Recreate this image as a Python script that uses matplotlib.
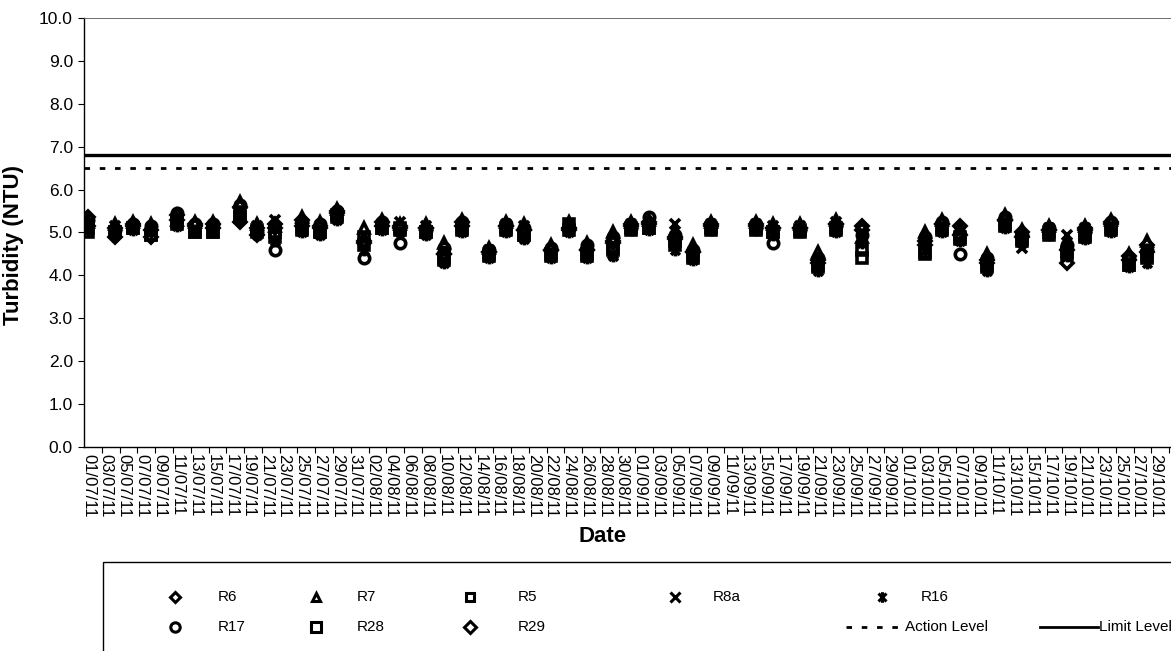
import numpy as np
import pandas as pd
import matplotlib
matplotlib.use("Agg")
import matplotlib.pyplot as plt
from matplotlib.path import Path
from matplotlib.lines import Line2D
from matplotlib.patches import Rectangle

plt.rcParams['font.family'] = ['Liberation Sans', 'DejaVu Sans']

# sampling dates (Mon / Wed / Fri)
dates = ["2011-07-01", "2011-07-04", "2011-07-06", "2011-07-08", "2011-07-11", "2011-07-13",
         "2011-07-15", "2011-07-18", "2011-07-20", "2011-07-22", "2011-07-25", "2011-07-27",
         "2011-07-29", "2011-08-01", "2011-08-03", "2011-08-05", "2011-08-08", "2011-08-10",
         "2011-08-12", "2011-08-15", "2011-08-17", "2011-08-19", "2011-08-22", "2011-08-24",
         "2011-08-26", "2011-08-29", "2011-08-31", "2011-09-02", "2011-09-05", "2011-09-07",
         "2011-09-09", "2011-09-14", "2011-09-16", "2011-09-19", "2011-09-21", "2011-09-23",
         "2011-09-26", "2011-10-03", "2011-10-05", "2011-10-07", "2011-10-10", "2011-10-12",
         "2011-10-14", "2011-10-17", "2011-10-19", "2011-10-21", "2011-10-24", "2011-10-26",
         "2011-10-28"]

r6 = [5.35, 5.10, 5.20, 5.05, 5.40, 5.20, 5.20, 5.60, 5.10, 5.10, 5.30, 5.15, 5.50, 4.80, 5.25, 5.10,
      5.10, 4.50, 5.25, 4.55, 5.15, 5.05, 4.60, 5.10, 4.60, 4.80, 5.15, 5.20, 4.90, 4.55, 5.15, 5.15,
      5.10, 5.10, 4.35, 5.20, 5.05, 4.80, 5.20, 4.95, 4.35, 5.30, 4.90, 5.05, 4.60, 5.05, 5.20, 4.35, 4.55]
r7 = [5.25, 5.20, 5.25, 5.20, 5.30, 5.25, 5.25, 5.70, 5.20, 5.15, 5.35, 5.25, 5.55, 5.10, 5.30, 5.20,
      5.20, 4.75, 5.30, 4.65, 5.25, 5.20, 4.70, 5.25, 4.75, 5.00, 5.25, 5.30, 5.00, 4.70, 5.25, 5.25,
      5.20, 5.20, 4.55, 5.30, 4.90, 5.00, 5.30, 5.10, 4.50, 5.40, 5.05, 5.15, 4.75, 5.15, 5.30, 4.50, 4.80]
r5 = [5.10, 5.00, 5.10, 4.95, 5.20, 5.00, 5.00, 5.35, 5.00, 4.90, 5.05, 5.00, 5.35, 4.70, 5.10, 5.05,
      5.00, 4.40, 5.05, 4.45, 5.05, 4.95, 4.45, 5.05, 4.45, 4.60, 5.05, 5.10, 4.80, 4.40, 5.05, 5.05,
      5.00, 5.00, 4.20, 5.05, 4.60, 4.55, 5.05, 4.85, 4.20, 5.15, 4.85, 4.95, 4.50, 4.90, 5.05, 4.25, 4.40]
r8a = [5.20, 5.15, 5.15, 5.10, 5.35, 5.10, 5.15, 5.50, 5.15, 5.30, 5.20, 5.10, 5.45, 4.95, 5.20, 5.25,
       5.15, 4.60, 5.20, 4.60, 5.20, 5.15, 4.55, 5.15, 4.55, 4.50, 5.20, 5.15, 5.20, 4.50, 5.20, 5.20,
       5.15, 5.15, 4.30, 5.25, 4.85, 4.75, 5.15, 5.00, 4.30, 5.25, 4.65, 5.10, 4.95, 5.10, 5.15, 4.30, 4.50]
r16 = [5.05, 4.95, 5.05, 5.00, 5.15, 5.05, 5.05, 5.30, 4.95, 4.80, 5.00, 4.95, 5.30, 4.60, 5.05, 5.00,
       4.95, 4.30, 5.00, 4.40, 5.00, 4.85, 4.40, 5.00, 4.40, 4.45, 5.05, 5.05, 4.60, 4.35, 5.05, 5.05,
       4.95, 5.00, 4.10, 5.00, 4.75, 4.60, 5.00, 4.80, 4.10, 5.10, 4.75, 4.95, 4.45, 4.85, 5.00, 4.20, 4.30]
r17 = [5.30, 5.05, 5.20, 5.15, 5.45, 5.20, 5.20, 5.65, 5.00, 4.60, 5.25, 5.20, 5.50, 4.40, 5.25, 4.75,
       5.05, 4.65, 5.25, 4.60, 5.20, 5.10, 4.65, 5.10, 4.70, 4.90, 5.10, 5.35, 4.95, 4.60, 5.15, 5.10,
       4.75, 5.05, 4.40, 5.15, 4.95, 4.90, 5.25, 4.50, 4.40, 5.35, 4.95, 5.10, 4.70, 5.00, 5.25, 4.40, 4.60]
r28 = [5.00, 5.00, 5.10, 4.95, 5.25, 5.00, 5.00, 5.40, 5.05, 5.00, 5.10, 5.00, 5.40, 4.90, 5.10, 5.10,
       5.00, 4.35, 5.10, 4.50, 5.10, 4.95, 4.50, 5.20, 4.50, 4.65, 5.10, 5.10, 4.70, 4.45, 5.10, 5.10,
       5.00, 5.05, 4.25, 5.10, 4.40, 4.50, 5.10, 4.90, 4.25, 5.20, 4.80, 5.00, 4.55, 4.95, 5.10, 4.25, 4.45]
r29 = [5.15, 4.90, 5.15, 4.90, 5.30, 5.15, 5.10, 5.25, 4.95, 5.20, 5.15, 5.10, 5.45, 4.75, 5.15, 5.15,
       5.10, 4.50, 5.15, 4.55, 5.15, 5.05, 4.60, 5.05, 4.60, 4.75, 5.20, 5.25, 4.85, 4.55, 5.20, 5.20,
       5.10, 5.10, 4.30, 5.20, 5.15, 4.70, 5.20, 5.15, 4.30, 5.30, 5.00, 5.05, 4.30, 5.10, 5.25, 4.45, 4.70]

action_level = 6.5
limit_level = 6.8

# Excel "star" marker: x with a vertical bar
star = Path([(0, -1), (0, 1), (-0.75, -0.75), (0.75, 0.75), (-0.75, 0.75), (0.75, -0.75)],
            [Path.MOVETO, Path.LINETO, Path.MOVETO, Path.LINETO, Path.MOVETO, Path.LINETO])

series = [("R6", r6, "D", 6), ("R7", r7, "^", 7), ("R5", r5, "s", 6.5),
          ("R8a", r8a, "x", 7.5), ("R16", r16, star, 8.5), ("R17", r17, "o", 7.5),
          ("R28", r28, "s", 7.5), ("R29", r29, "D", 6.5)]

start = pd.Timestamp("2011-07-01")
end = pd.Timestamp("2011-10-31")
day = (pd.to_datetime(dates) - start).days.values.astype(float)
nday = (end - start).days

W, H = 1171, 651
fig = plt.figure(figsize=(W / 100, H / 100), dpi=100)
# plot area: day -0.5 at x=84, runs a little past the right edge like the scan
ax = fig.add_axes([84 / W, (H - 447) / H, (1178 - 84) / W, (447 - 18) / H])

for name, vals, mk, ms in series:
    ax.plot(day, vals, linestyle="none", marker=mk, markersize=ms, markerfacecolor="none",
            markeredgecolor="black", markeredgewidth=2.6, color="black", label=name, zorder=3)

ax.axhline(action_level, color="black", linestyle=(0, (2, 3.5)), linewidth=2)
ax.axhline(limit_level, color="black", linestyle="-", linewidth=2.4)

ax.set_xlim(-0.5, nday + 0.5)
ax.set_ylim(0, 10)
ax.set_yticks(np.arange(0, 10.5, 1.0))
ax.set_yticklabels(["%.1f" % v for v in np.arange(0, 10.5, 1.0)], fontsize=12.5)

lab_days = np.arange(0, nday + 1, 2)
ax.set_xticks(lab_days)
ax.set_xticklabels([(start + pd.Timedelta(days=int(d))).strftime("%d/%m/%y") for d in lab_days],
                   rotation=270, fontsize=12, va="top", ha="center")
ax.tick_params(axis="x", which="major", length=0, pad=5)
ax.set_xticks(np.arange(1.5, nday + 1, 2), minor=True)
ax.tick_params(axis="x", which="minor", length=4, direction="out", width=0.8)
ax.tick_params(axis="y", length=4, direction="out", width=0.8, pad=4)

for s in ["left", "bottom"]:
    ax.spines[s].set_linewidth(1.0)
ax.spines["top"].set_linewidth(0.6)
ax.spines["top"].set_color("#555555")
ax.spines["right"].set_visible(False)

fig.text(14 / W, 1 - 245 / H, "Turbidity (NTU)", rotation=90, fontsize=16, fontweight="bold",
         ha="center", va="center")
fig.text(603 / W, 1 - 537 / H, "Date", fontsize=16, fontweight="bold", ha="center", va="center")

# legend box laid out like the Excel legend
lg = fig.add_axes([0, 0, 1, 1], facecolor="none")
lg.set_xlim(0, W)
lg.set_ylim(H, 0)
lg.axis("off")
lg.add_patch(Rectangle((103, 562), 1080, 100, fill=False, edgecolor="black", linewidth=1))

row_y = [597, 627]
slots = [(0, 175, 218), (1, 316, 357), (2, 470, 518), (3, 675, 713), (4, 882, 921),
         (5, 175, 218), (6, 316, 357), (7, 470, 518)]
for (i, mx, tx), (name, vals, mk, ms) in zip(slots, series):
    y = row_y[0] if i < 5 else row_y[1]
    lg.add_line(Line2D([mx], [y], marker=mk, markersize=ms * 0.9, markerfacecolor="white",
                       markeredgecolor="black", markeredgewidth=2.2, linestyle="none"))
    lg.text(tx, y, name, fontsize=11, va="center", ha="left")

lg.add_line(Line2D([846, 903], [row_y[1], row_y[1]], color="black", linestyle=(0, (2, 3.5)), linewidth=2))
lg.text(905, row_y[1], "Action Level", fontsize=11, va="center", ha="left")
lg.add_line(Line2D([1040, 1098], [row_y[1], row_y[1]], color="black", linewidth=2))
lg.text(1099, row_y[1], "Limit Level", fontsize=11, va="center", ha="left")

fig.savefig("out.png", dpi=100)
